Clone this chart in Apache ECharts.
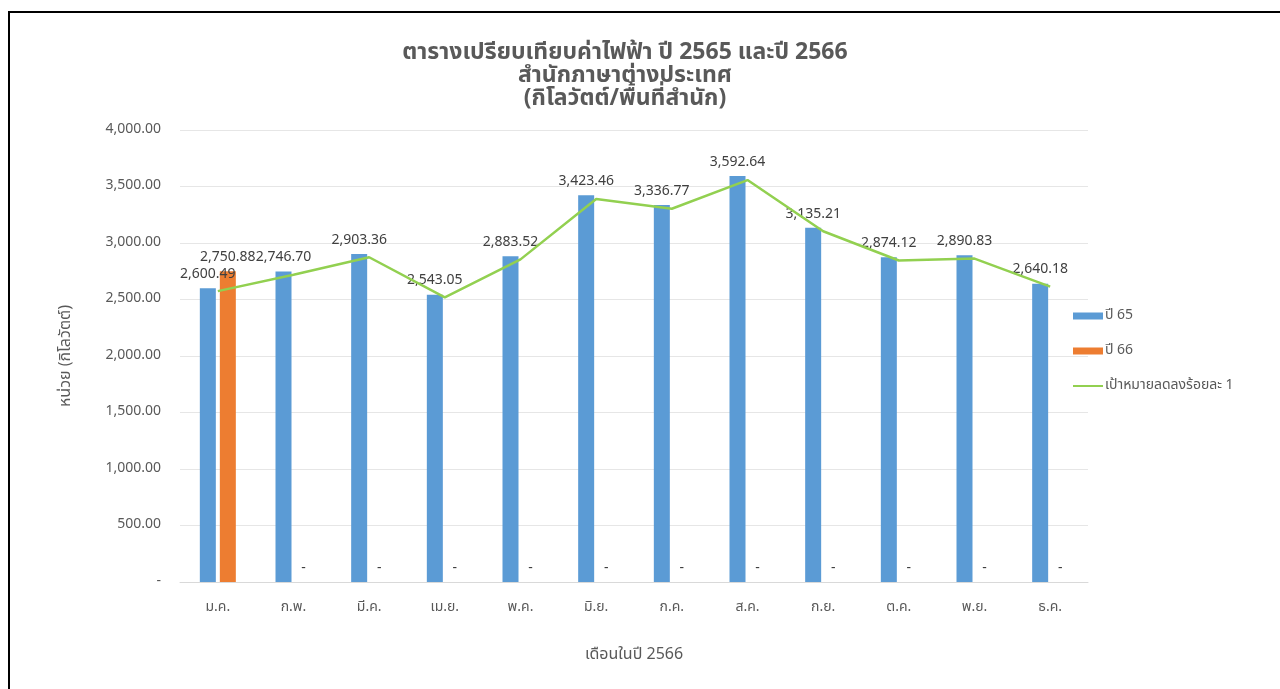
<!DOCTYPE html>
<html>
<head>
<meta charset="utf-8">
<script src="https://cdn.jsdelivr.net/npm/echarts@6/dist/echarts.min.js"></script>
<style>
  html, body { margin: 0; padding: 0; background: #fff; }
  #chart { width: 1280px; height: 689px; }
</style>
</head>
<body>
<div id="chart"></div>
<script>
var months = ['ม.ค.', 'ก.พ.', 'มี.ค.', 'เม.ย.', 'พ.ค.', 'มิ.ย.', 'ก.ค.', 'ส.ค.', 'ก.ย.', 'ต.ค.', 'พ.ย.', 'ธ.ค.']
var year65 = [2600.49, 2746.70, 2903.36, 2543.05, 2883.52, 3423.46, 3336.77, 3592.64, 3135.21, 2874.12, 2890.83, 2640.18]
var year66 = [2750.88, 0, 0, 0, 0, 0, 0, 0, 0, 0, 0, 0]
var target = [2574, 2719, 2874, 2518, 2855, 3389, 3303, 3557, 3104, 2845, 2862, 2614]
var yTicks = [0, 500, 1000, 1500, 2000, 2500, 3000, 3500, 4000]

var thai = "'Noto Sans Thai', 'Noto Sans', Tahoma, sans-serif"

function fmt(v) {
  if (!v) return '-'
  return v.toLocaleString('en-US', { minimumFractionDigits: 2, maximumFractionDigits: 2 })
}

var chart = echarts.init(document.getElementById('chart'))
chart.setOption({
  backgroundColor: '#fff',
  textStyle: { fontFamily: thai },
  graphic: [{
    type: 'rect',
    shape: { x: 9, y: 12, width: 1300, height: 720 },
    style: { fill: 'none', stroke: '#000', lineWidth: 2 },
    silent: true
  }],
  title: {
    text: 'ตารางเปรียบเทียบค่าไฟฟ้า ปี 2565 และปี 2566\nสำนักภาษาต่างประเทศ\n(กิโลวัตต์/พื้นที่สำนัก)',
    left: 620,
    textAlign: 'center',
    top: 38,
    textStyle: {
      fontSize: 23,
      fontWeight: 'bold',
      color: '#595959',
      lineHeight: 23,
      fontFamily: thai
    }
  },
  legend: {
    orient: 'vertical',
    left: 1067,
    top: 304,
    itemGap: 21,
    itemWidth: 30,
    itemHeight: 7,
    textStyle: { fontSize: 14, color: '#595959', padding: [0, 0, 0, -3] },
    data: [
      { name: 'ปี 65', icon: 'rect' },
      { name: 'ปี 66', icon: 'rect' },
      { name: 'เป้าหมายลดลงร้อยละ 1', itemStyle: { opacity: 0 } }
    ]
  },
  grid: { left: 180, right: 192, top: 130, bottom: 107, containLabel: false },
  xAxis: {
    type: 'category',
    data: months,
    name: 'เดือนในปี 2566',
    nameLocation: 'middle',
    nameGap: 66,
    nameTextStyle: { fontSize: 16, color: '#595959' },
    axisLine: { lineStyle: { color: '#D9D9D9' } },
    axisTick: { show: false },
    axisLabel: { color: '#595959', fontSize: 14, margin: 19 }
  },
  yAxis: {
    type: 'value',
    min: 0,
    max: 4000,
    interval: 500,
    name: 'หน่วย (กิโลวัตต์)',
    nameLocation: 'middle',
    nameGap: 105,
    nameRotate: 90,
    nameTextStyle: { fontSize: 16, color: '#595959' },
    axisLine: { show: false },
    axisTick: { show: false },
    axisLabel: {
      color: '#595959',
      fontSize: 14,
      margin: 19,
      formatter: function (v) { return yTicks.indexOf(v) >= 0 ? fmt(v) : '' }
    },
    splitLine: { lineStyle: { color: '#E6E6E6' } }
  },
  series: [
    {
      name: 'ปี 65',
      type: 'bar',
      data: year65,
      barWidth: 16,
      barGap: '25%',
      itemStyle: { color: '#5B9BD5' },
      label: {
        show: true,
        position: 'top',
        distance: 6,
        color: '#404040',
        fontSize: 14,
        formatter: function (p) { return fmt(p.value) }
      }
    },
    {
      name: 'ปี 66',
      type: 'bar',
      data: year66,
      barWidth: 16,
      itemStyle: { color: '#ED7D31' },
      label: {
        show: true,
        position: 'top',
        distance: 6,
        color: '#404040',
        fontSize: 14,
        formatter: function (p) { return fmt(p.value) }
      }
    },
    {
      name: 'เป้าหมายลดลงร้อยละ 1',
      type: 'line',
      data: target,
      symbol: 'none',
      lineStyle: { color: '#92D050', width: 2.5 },
      itemStyle: { color: '#92D050' }
    }
  ]
})
</script>
</body>
</html>
